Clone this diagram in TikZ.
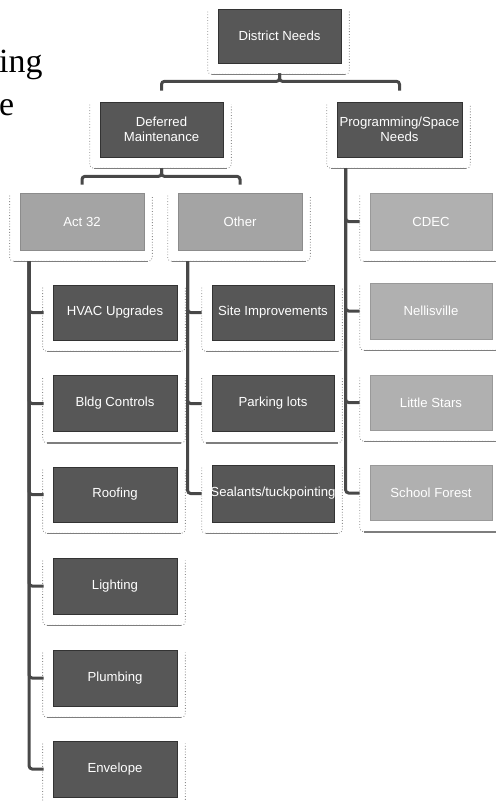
\documentclass[tikz,border=0pt]{standalone}
\usepackage{fontspec}
\setmainfont{Liberation Serif}
\newfontfamily\boxfont{Liberation Sans}
\usetikzlibrary{calc}
\definecolor{darkbox}{HTML}{575757}
\definecolor{midbox}{HTML}{A4A4A4}
\definecolor{lightbox}{HTML}{B0B0B0}
\definecolor{connc}{HTML}{484848}
\definecolor{fsidec}{HTML}{8C8C8C}
\definecolor{fbotc}{HTML}{7E7E7E}
\tikzset{
  boxbase/.style={inner sep=0pt, text=white, align=center,
    font=\boxfont\fontsize{13.2}{15}\selectfont, line width=0.7bp},
  darkn/.style={boxbase, fill=darkbox, draw=black!80},
  midn/.style={boxbase, fill=midbox, draw=black!45},
  lightn/.style={boxbase, fill=lightbox, draw=black!40},
  conn/.style={draw=connc, line width=3bp, rounded corners=3bp},
  fside/.style={draw=fsidec, line width=0.8bp, dotted, rounded corners=4bp},
  fbot/.style={draw=fbotc, line width=1.5bp},
  bigtext/.style={font=\fontsize{34}{40}\selectfont, inner sep=0pt, anchor=base west}
}
\newcommand\frm[1]{%
  \draw[fside] ($(#1.north west)+(-10,3)$) -- ($(#1.south west)+(-10,11)$) -- ($(#1.south east)+(8,11)$) -- ($(#1.north east)+(8,3)$);
  \draw[fbot] ($(#1.south west)+(-6,11)$) -- ($(#1.south east)+(4,11)$);}
\begin{document}
\begin{tikzpicture}[x=1bp,y=-1bp]
\useasboundingbox (0,0) rectangle (496,801);
% left partial slide text
\node[bigtext] (t1) at (-1,73) {ing};
\node[bigtext] (t2) at (-1,115) {e};
% level 0,1
\node[darkn, minimum width=123bp, minimum height=54bp] (dn) at (279.5,36) {District Needs};
\node[darkn, minimum width=123bp, minimum height=55bp] (dm) at (161.5,129.5) {Deferred\\Maintenance};
\node[darkn, minimum width=125bp, minimum height=55bp] (ps) at (399.5,129.5) {Programming/Space\\Needs};
% level 2
\node[midn, minimum width=124bp, minimum height=57bp] (act) at (82,221.5) {Act 32};
\node[midn, minimum width=124bp, minimum height=57bp] (oth) at (240,221.5) {Other};
\node[lightn, minimum width=122bp, minimum height=57bp] (cdec) at (431,221.5) {CDEC};
% Act 32 children
\node[darkn, minimum width=124bp, minimum height=55bp] (hvac) at (115,312.5) {HVAC Upgrades};
\node[darkn, minimum width=124bp, minimum height=56bp] (bldg) at (115,403.5) {Bldg Controls};
\node[darkn, minimum width=124bp, minimum height=55bp] (roof) at (115,494.5) {Roofing};
\node[darkn, minimum width=124bp, minimum height=56bp] (light) at (115,586) {Lighting};
\node[darkn, minimum width=124bp, minimum height=56bp] (plumb) at (115,678) {Plumbing};
\node[darkn, minimum width=124bp, minimum height=56bp] (env) at (115,769) {Envelope};
% Other children
\node[darkn, minimum width=122bp, minimum height=55bp] (site) at (273,312.5) {Site Improvements};
\node[darkn, minimum width=122bp, minimum height=56bp] (park) at (273,403.5) {Parking lots};
\node[darkn, minimum width=122bp, minimum height=57bp] (seal) at (273,493.5) {\makebox[100bp][c]{Sealants/tuckpointing}};
% Programming children
\node[lightn, minimum width=122bp, minimum height=56bp] (nel) at (431,311) {Nellisville};
\node[lightn, minimum width=122bp, minimum height=55bp] (ls) at (431,402.5) {Little Stars};
\node[lightn, minimum width=122bp, minimum height=55bp] (sf) at (431,493) {School Forest};
% frames
\foreach \n in {dn,dm,ps,act,oth,cdec,hvac,bldg,roof,light,plumb,env,site,park,seal,nel,ls,sf} {\frm{\n}}
% connectors
\draw[conn] ($(dn.south)+(0,10)$) -- ++(0,8) -| ($(dm.north)+(0,-11)$);
\draw[conn] ($(dn.south)+(0,10)$) -- ++(0,8) -| ($(ps.north)+(0,-11)$);
\draw[conn] ($(dm.south)+(0,11)$) -- ++(0,8) -| ($(act.north)+(0,-8)$);
\draw[conn] ($(dm.south)+(0,11)$) -- ++(0,8) -| ($(oth.north)+(0,-8)$);
\foreach \c in {hvac,bldg,roof,light,plumb,env} {\draw[conn] ($(act.south west)+(9.5,11)$) |- ($(\c.west)+(-9,0)$);}
\foreach \c in {site,park,seal} {\draw[conn] ($(oth.south west)+(10,11)$) |- ($(\c.west)+(-10,0)$);}
\foreach \c in {cdec,nel,ls,sf} {\draw[conn] ($(ps.south west)+(9,11)$) |- ($(\c.west)+(-10,0)$);}
\end{tikzpicture}
\end{document}
